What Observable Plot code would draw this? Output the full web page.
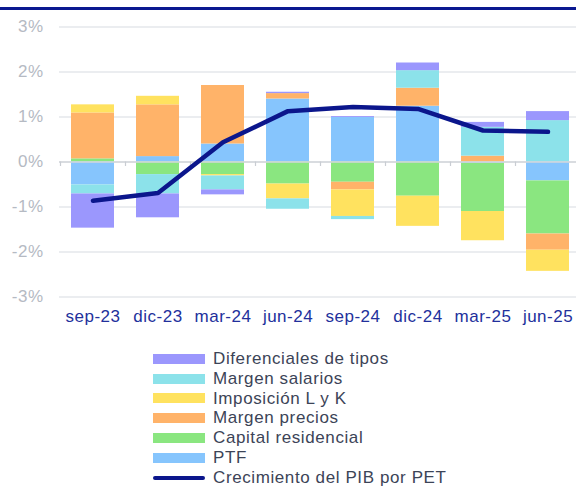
<!DOCTYPE html>
<html>
<head>
<meta charset="utf-8">
<script src="https://cdn.jsdelivr.net/npm/d3@7"></script>
<script src="https://cdn.jsdelivr.net/npm/@observablehq/plot@0.6"></script>
<style>
  body { margin: 0; background: #fff; font-family: "Liberation Sans", Arial, sans-serif; }
  #wrap { position: relative; width: 576px; height: 486px; overflow: hidden; }
  #rule { position: absolute; left: 0; top: 7px; width: 576px; height: 3px; background: #0a1890; }
  #chart { position: absolute; left: 0; top: 0; }
  #legend { position: absolute; left: 153px; top: 349px; font-size: 17px; letter-spacing: 0.6px; color: #3c4457; }
  .row { height: 19.8px; display: flex; align-items: center; white-space: nowrap; }
  .sw { width: 52px; height: 10px; margin-right: 8px; flex: none; }
  .ln { width: 52px; height: 4px; border-radius: 2px; margin-right: 8px; flex: none; background: #0b168c; }
</style>
</head>
<body>
<div id="wrap">
  <div id="chart"></div>
  <div id="rule"></div>
  <div id="legend"></div>
</div>
<script>
const dates = ["sep-23","dic-23","mar-24","jun-24","sep-24","dic-24","mar-25","jun-25"];
const seriesNames = ["PTF","Capital residencial","Margen precios","Imposición L y K","Margen salarios","Diferenciales de tipos"];
const seriesColors = ["#86c5fd","#8ae680","#ffb369","#ffe25f","#8ce2ea","#9b97fd"];
const ptf          = [-0.51, 0.12, 0.40, 1.40, 0.99, 1.24, -0.03, -0.42];
const capital      = [ 0.07,-0.28,-0.28,-0.49,-0.45,-0.76, -1.07, -1.18];
const precios      = [ 1.02, 1.15, 1.30, 0.12,-0.17, 0.40,  0.13, -0.36];
const imposicion   = [ 0.18, 0.19,-0.03,-0.33,-0.59,-0.67, -0.65, -0.47];
const salarios     = [-0.20,-0.43,-0.31,-0.23,-0.07, 0.39,  0.64,  0.92];
const diferenciales= [-0.76,-0.53,-0.11, 0.03, 0.02, 0.17,  0.11,  0.20];
const pib          = [-0.86,-0.69, 0.44, 1.13, 1.22, 1.18,  0.70,  0.67];
const lineName = "Crecimiento del PIB por PET";
const yTicks = [-3,-2,-1,0,1,2,3];

const seriesValues = [ptf, capital, precios, imposicion, salarios, diferenciales];
const bars = [];
seriesNames.forEach((s, si) => dates.forEach((d, i) => bars.push({date: d, series: s, value: seriesValues[si][i]})));
const lineData = dates.map((d, i) => ({date: d, value: pib[i]}));

const chart = Plot.plot({
  width: 576,
  height: 340,
  marginTop: 26.5,
  marginBottom: 43.5,
  marginLeft: 59,
  marginRight: 0,
  style: {fontFamily: "'Liberation Sans', Arial, sans-serif", fontSize: "17px", letterSpacing: "0.5px", background: "transparent"},
  x: {domain: dates, range: [59.5, 579.5], paddingInner: 0.34, paddingOuter: 0.17, label: null},
  y: {domain: [-3, 3], label: null},
  color: {domain: seriesNames, range: seriesColors},
  marks: [
    Plot.gridY(yTicks, {stroke: "#e4e7eb", strokeOpacity: 1, strokeWidth: 1.5}),
    Plot.barY(bars, {x: "date", y: "value", fill: "series", order: seriesNames}),
    Plot.ruleY([0], {stroke: "#d3d6db", strokeWidth: 1.5}),
    Plot.ruleX(dates, {x: d => d, dx: -32.5, y1: 0, y2: -0.1, stroke: "#c9cdd3", strokeWidth: 1.2}),
    Plot.line(lineData, {x: "date", y: "value", stroke: "#0b168c", strokeWidth: 4.5, strokeLinecap: "round", strokeLinejoin: "round"}),
    Plot.axisY(yTicks, {tickSize: 0, tickPadding: 16, tickFormat: d => d + "%", fill: "#b5bac3", fontSize: 17}),
    Plot.axisX({tickSize: 0, tickPadding: 13, fill: "#22309c", fontSize: 17})
  ]
});
document.getElementById("chart").appendChild(chart);

const legend = document.getElementById("legend");
const legendOrder = [5,4,3,2,1,0];
legendOrder.forEach(i => {
  const r = document.createElement("div");
  r.className = "row";
  r.innerHTML = `<span class="sw" style="background:${seriesColors[i]}"></span><span>${seriesNames[i]}</span>`;
  legend.appendChild(r);
});
const lr = document.createElement("div");
lr.className = "row";
lr.innerHTML = `<span class="ln"></span><span>${lineName}</span>`;
legend.appendChild(lr);
</script>
</body>
</html>
